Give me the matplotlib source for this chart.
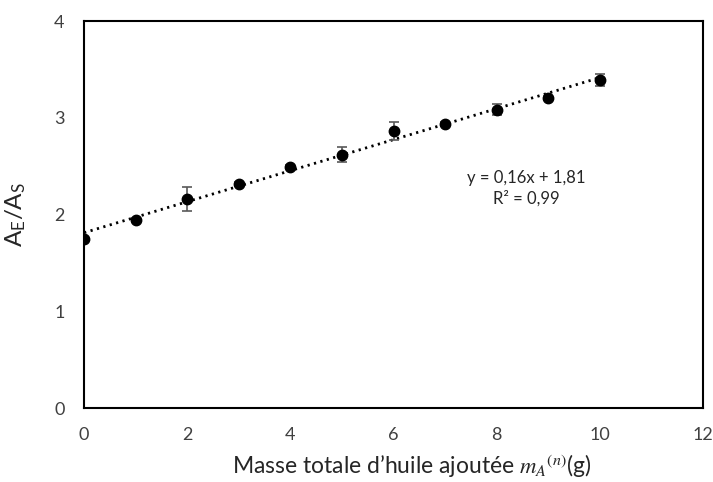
import numpy as np
import matplotlib.pyplot as plt

plt.rcParams['font.family'] = ['Lato', 'DejaVu Sans']
plt.rcParams['mathtext.fontset'] = 'stix'

# masse d'huile ajoutee (g) et rapport des aires
masse = [0, 1, 2, 3, 4, 5, 6, 7, 8, 9, 10]
ratio = [1.745, 1.94, 2.165, 2.32, 2.495, 2.62, 2.865, 2.935, 3.085, 3.205, 3.39]
erreur = [0.02, 0.02, 0.125, 0.02, 0.02, 0.08, 0.095, 0.02, 0.06, 0.02, 0.06]

x_ticks = [0, 2, 4, 6, 8, 10, 12]
y_ticks = [0, 1, 2, 3, 4]

fig = plt.figure(figsize=(7.13, 4.82), dpi=100)
ax = fig.add_axes([0.118, 0.1535, 0.868, 0.8025])

ax.errorbar(masse, ratio, yerr=erreur, fmt='o', color='black', ms=7.5,
            ecolor='#595959', elinewidth=1.2, capsize=3.5, capthick=1.2, zorder=3)

# droite de regression lineaire
a, b = np.polyfit(masse, ratio, 1)
r2 = np.corrcoef(masse, ratio)[0, 1] ** 2
xs = np.array([masse[0], masse[-1]])
ax.plot(xs, a * xs + b, color='black', lw=2, linestyle=(0, (0.8, 1.6)), zorder=2)

eq = f"y = {a:.2f}x + {b:.2f}".replace('.', ',')
r2_txt = f"R² = {r2:.2f}".replace('.', ',')
ax.text(8.57, 2.27, eq + "\n" + r2_txt, ha='center', va='center',
        fontsize=12, color='#262626', linespacing=1.35)

ax.set_xlim(0, 12)
ax.set_ylim(0, 4)
ax.set_xticks(x_ticks)
ax.set_yticks(y_ticks)
ax.tick_params(length=0, labelsize=13, labelcolor='#404040')
ax.tick_params(axis='x', pad=14)
ax.tick_params(axis='y', pad=14)
for s in ax.spines.values():
    s.set_linewidth(1.5)
    s.set_color('black')

ax.set_xlabel(r'Masse totale d’huile ajoutée $m_A{}^{(n)}$(g)', fontsize=16.5,
              color='#262626', va='center')
ax.xaxis.set_label_coords(0.53, -0.15)
ax.set_ylabel(r'$\mathregular{A_E/A_S}$', fontsize=17.5, color='#262626')
ax.yaxis.set_label_coords(-0.09, 0.5)

fig.savefig('out.png', dpi=100)
